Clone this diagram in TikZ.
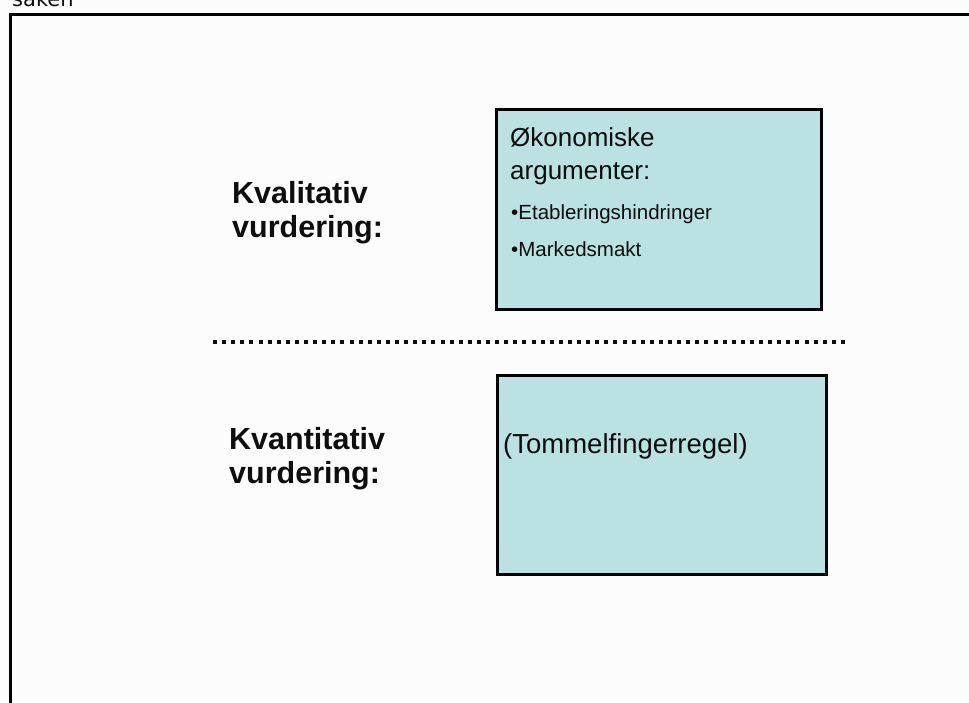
\documentclass[tikz,border=0pt]{standalone}
\usepackage{fontspec}
\setmainfont{Liberation Sans}
\newfontfamily\captionfont{DejaVu Sans}
\definecolor{boxfill}{RGB}{187,226,226}
\definecolor{ink}{RGB}{14,14,14}
\begin{document}
\begin{tikzpicture}[x=1pt,y=-1pt,
  panel/.style={draw=black,line width=2.6pt,fill=boxfill,inner sep=0pt,
    minimum width=#1,anchor=north west},
  heading/.style={font=\bfseries\fontsize{30.5}{34.5}\selectfont,text=ink,
    align=left,anchor=north west,inner sep=0pt},
  boxtext/.style={font=\fontsize{26}{33}\selectfont,text=ink,
    align=left,anchor=north west,inner sep=0pt},
  bullettext/.style={font=\fontsize{20.5}{37}\selectfont,text=ink,
    align=left,anchor=north west,inner sep=0pt},
  divider/.style={line width=4pt,dash pattern=on 4pt off 5.1pt,draw=ink}]
\useasboundingbox (0,0) rectangle (969,702);
\clip (0,0) rectangle (969,702);
\fill[white!99!black] (0,0) rectangle (969,702);

% caption above the frame, cut by the top edge
\node[font=\captionfont\fontsize{21}{25}\selectfont,anchor=base west,
  inner sep=0pt,text=ink] (caption) at (12,6) {saken};

% open frame: left and top edges
\coordinate (frameBL) at (10.5,720);
\coordinate (frameTL) at (10.5,14.5);
\coordinate (frameTR) at (990,14.5);
\draw[line width=2.4pt,black] (frameBL) -- (frameTL) -- (frameTR);

% qualitative assessment
\node[heading] (qual) at (232,181) {Kvalitativ\\vurdering:};
\node[panel=325pt,minimum height=200pt] (econbox) at (495,108) {};
\node[boxtext] (econ) at (510,127.5) {Økonomiske\\argumenter:};
\node[bullettext] (points) at (511,204)
  {•Etableringshindringer\\•Markedsmakt};

% divider between the two parts
\coordinate (divL) at (213,342);
\coordinate (divR) at (847,342);
\draw[divider] (divL) -- (divR);

% quantitative assessment
\node[heading] (quant) at (229,427) {Kvantitativ\\vurdering:};
\node[panel=329pt,minimum height=199pt] (rulebox) at (496,374) {};
\node[boxtext,font=\fontsize{27.5}{33}\selectfont] (rule) at (503,433)
  {(Tommelfingerregel)};
\end{tikzpicture}
\end{document}
